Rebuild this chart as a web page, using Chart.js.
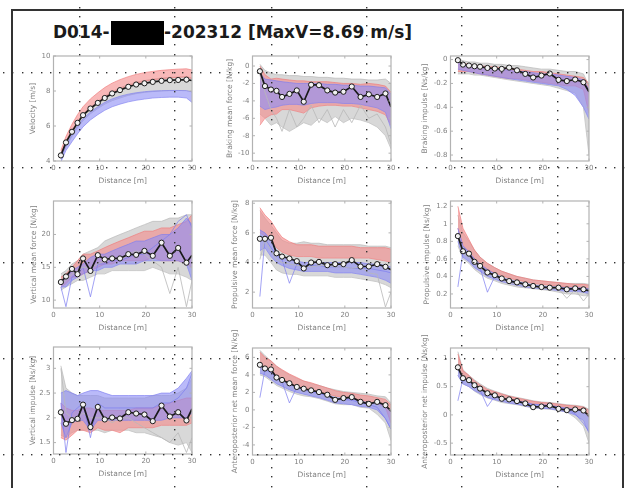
<!DOCTYPE html>
<html><head><meta charset="utf-8">
<script src="https://cdn.jsdelivr.net/npm/chart.js@4.4.1/dist/chart.umd.min.js"></script>
<style>
html,body{margin:0;padding:0;background:#fff;}
body{width:627px;height:488px;position:relative;overflow:hidden;font-family:"DejaVu Sans",sans-serif;}
#frame{position:absolute;left:11px;top:9px;width:613px;height:500px;box-sizing:border-box;border:2px solid #333;border-bottom:none;}
.tt{position:absolute;top:19px;font:bold 17px "DejaVu Sans",sans-serif;color:#1a1a1a;line-height:26px;white-space:nowrap;}
#redact{position:absolute;left:111px;top:21px;width:53px;height:24px;background:#000;}
.cw{position:absolute;}
#dots{position:absolute;left:0;top:0;z-index:10;pointer-events:none;}
</style>
</head><body>
<div id="frame"></div>
<div class="tt" style="left:53px">D014-</div>
<div id="redact"></div>
<div class="tt" style="left:164px">-202312 [MaxV=8.69 m/s]</div>
<canvas id="dots" width="627" height="488"></canvas>
<script>
// ---------- data ----------
const DIST = [1.6, 2.7, 4.0, 5.2, 6.4, 8.0, 9.6, 11.1, 12.7, 14.4, 16.2, 17.9, 19.7, 21.5, 23.4, 25.2, 27.0, 28.8, 30.0];
const X_TICKS = [0, 10, 20, 30];

// Velocity [m/s]
const velMean   = [4.32,5.06,5.67,6.18,6.62,7.0,7.32,7.6,7.86,8.05,8.24,8.37,8.44,8.52,8.58,8.62,8.63,8.65,8.6];
const velRedHi  = [4.6,5.4,6.1,6.65,7.1,7.55,7.9,8.2,8.45,8.65,8.82,8.95,9.05,9.12,9.18,9.22,9.25,9.27,9.2];
const velRedLo  = [4.3,5.05,5.7,6.2,6.62,7.02,7.36,7.65,7.9,8.1,8.3,8.45,8.55,8.63,8.7,8.75,8.78,8.8,8.7];
const velGrayHi = [4.4,5.15,5.75,6.25,6.68,7.08,7.42,7.72,7.97,8.18,8.36,8.5,8.6,8.68,8.74,8.78,8.8,8.82,8.75];
const velGrayLo = [4.1,4.8,5.4,5.9,6.3,6.7,7.0,7.25,7.45,7.6,7.75,7.85,7.92,7.97,8.0,8.02,8.03,8.03,7.95];
const velBlueHi = [4.2,4.9,5.5,6.0,6.42,6.8,7.1,7.35,7.55,7.7,7.82,7.9,7.96,8.0,8.02,8.03,8.03,8.02,7.95];
const velBlueLo = [3.95,4.6,5.1,5.55,5.95,6.35,6.65,6.9,7.1,7.25,7.38,7.47,7.54,7.6,7.63,7.65,7.65,7.6,7.35];
const velTicks  = [4, 6, 8, 10];

// Braking mean force [N/kg]
const bmfMean   = [-0.6,-2.3,-2.7,-2.85,-3.55,-3.2,-2.8,-4.1,-2.15,-2.2,-2.8,-3.05,-2.95,-2.35,-3.55,-3.25,-3.55,-3.15,-4.7];
const bmfRedHi  = [0,-1.0,-1.5,-1.4,-1.5,-1.6,-1.7,-1.7,-1.8,-1.8,-1.8,-1.9,-2.0,-2.0,-2.1,-2.0,-2.1,-2.3,-3.0];
const bmfRedLo  = [-6.8,-6.0,-5.6,-5.5,-5.0,-5.0,-5.2,-5.4,-4.8,-4.6,-4.5,-4.5,-4.6,-4.6,-4.8,-5.0,-5.2,-5.6,-6.8];
const bmfGrayHi = [0.2,-0.5,-0.8,-1.0,-1.0,-1.1,-1.1,-1.2,-1.2,-1.3,-1.3,-1.4,-1.4,-1.5,-1.5,-1.6,-1.6,-1.5,-2.0];
const bmfGrayLo = [-5.5,-6.0,-6.8,-6.5,-7.0,-7.5,-7.0,-6.5,-6.8,-6.0,-6.5,-5.8,-6.5,-6.0,-6.2,-6.5,-7.0,-8.0,-9.5];
const bmfBlueHi = [-0.8,-1.5,-1.6,-1.7,-1.8,-1.9,-2.0,-2.0,-2.0,-2.0,-2.1,-2.1,-2.2,-2.2,-2.3,-2.3,-2.4,-2.5,-3.2];
const bmfBlueLo = [-4.6,-5.0,-4.8,-4.7,-4.5,-4.4,-4.4,-4.5,-4.3,-4.2,-4.2,-4.2,-4.3,-4.3,-4.4,-4.6,-4.8,-5.3,-7.2];
const bmfGrayOut= [-1.0,-3.0,-5.0,-6.0,-7.5,-5.0,-7.0,-6.0,-4.5,-6.5,-5.0,-7.0,-5.0,-6.5,-4.5,-6.0,-5.5,-7.0,-9.0];
const bmfTicks  = [-10, -8, -6, -4, -2, 0];

// Braking impulse [Ns/kg]
const bimMean   = [-0.005,-0.042,-0.05,-0.056,-0.06,-0.07,-0.075,-0.078,-0.067,-0.09,-0.12,-0.15,-0.134,-0.117,-0.17,-0.18,-0.167,-0.19,-0.27];
const bimRedHi  = [-0.02,-0.03,-0.04,-0.05,-0.05,-0.06,-0.06,-0.07,-0.07,-0.08,-0.09,-0.1,-0.1,-0.11,-0.12,-0.13,-0.14,-0.15,-0.2];
const bimRedLo  = [-0.1,-0.1,-0.1,-0.11,-0.12,-0.13,-0.14,-0.15,-0.16,-0.16,-0.17,-0.18,-0.19,-0.2,-0.21,-0.22,-0.22,-0.25,-0.45];
const bimGrayHi = [0.01,-0.01,-0.02,-0.02,-0.03,-0.03,-0.04,-0.04,-0.05,-0.05,-0.06,-0.07,-0.08,-0.08,-0.09,-0.1,-0.1,-0.12,-0.22];
const bimGrayLo = [-0.12,-0.12,-0.12,-0.13,-0.13,-0.14,-0.15,-0.16,-0.17,-0.18,-0.19,-0.2,-0.21,-0.22,-0.24,-0.26,-0.28,-0.4,-0.8];
const bimBlueHi = [-0.02,-0.04,-0.05,-0.06,-0.06,-0.07,-0.08,-0.08,-0.09,-0.1,-0.1,-0.11,-0.12,-0.12,-0.13,-0.14,-0.15,-0.17,-0.25];
const bimBlueLo = [-0.08,-0.09,-0.1,-0.11,-0.12,-0.13,-0.14,-0.15,-0.16,-0.17,-0.18,-0.19,-0.2,-0.21,-0.22,-0.25,-0.3,-0.4,-0.5];
const bimTicks  = [-0.8, -0.6, -0.4, -0.2, 0];

// Vertical mean force [N/kg]
const vmfMean   = [12.75,13.6,14.75,13.95,16.35,14.45,16.85,16.2,16.35,16.35,17.0,16.9,17.5,16.75,18.75,16.75,17.95,15.7,16.85];
const vmfRedHi  = [13.5,14,15,16,17,17,17.5,18,18.5,19,19.5,20,20.5,20.5,21,21,21.5,22,23];
const vmfRedLo  = [12,12.5,13.5,13.5,14,14.5,15,15.5,15.5,16,16,16,16,16.5,16,16,16,15.5,15];
const vmfGrayHi = [14,14.5,15.5,16,17,17.5,18,19,19.5,20,20.5,21,21.5,22,22,22.5,22.5,23,23];
const vmfGrayLo = [11.5,12,12.5,13,13,13.5,14,14,14.5,14.5,14.5,14.5,14.5,15,14.5,14,14,13.5,13];
const vmfBlueHi = [13,13.5,14.5,15,15.5,16.5,17,17,17.5,18,18.5,19,19,19.5,20,20,21,22.5,21.5];
const vmfBlueLo = [12,12,13,13.5,14,14.5,14.5,15,15,15.5,15.5,15.5,16,16,16,16,16,15.5,13];
const vmfBlueOut= [12,9.0,13.5,14,15,10.5,15.5,15.5,16,16,16.5,17,17,18,19,20,22,23,21];
const vmfGrayOut= [12.5,13,14,14.5,15,15,15.5,16,16.5,16,17,17.5,17,16,15,11,15,9,13];
const vmfTicks  = [10, 15, 20];

// Propulsive mean force [N/kg]
const pmfMean   = [5.6,5.6,5.67,4.62,4.4,4.27,4.09,3.6,4.0,4.04,3.82,3.89,3.89,4.16,3.73,3.73,3.89,3.71,3.51];
const pmfRedHi  = [7.7,7.2,6.8,6.2,5.7,5.4,5.2,5.2,5.2,5.1,5.1,5.1,5.1,5.1,5.0,5.0,5.0,5.0,4.9];
const pmfRedLo  = [6.0,5.8,5.5,5.0,4.7,4.5,4.4,4.4,4.4,4.3,4.3,4.3,4.3,4.3,4.3,4.3,4.2,4.1,4.0];
const pmfGrayHi = [7.5,7.0,6.5,6.0,5.5,5.3,5.3,5.4,5.3,5.3,5.2,5.2,5.2,5.2,5.2,5.1,5.1,5.1,5.0];
const pmfGrayLo = [4.5,4.5,4.0,3.5,3.3,3.2,3.2,3.1,3.1,3.1,3.1,3.0,3.0,3.0,2.9,2.8,2.7,2.5,2.3];
const pmfBlueHi = [6.2,6.0,5.5,4.8,4.4,4.2,4.1,4.0,4.0,4.0,4.0,4.0,4.0,4.0,4.0,3.9,3.9,3.8,3.7];
const pmfBlueLo = [4.8,5.0,4.4,4.0,3.8,3.6,3.5,3.4,3.4,3.4,3.4,3.3,3.3,3.3,3.2,3.1,3.0,2.8,2.6];
const pmfBlueOut= [1.7,5.6,5.0,4.5,4.2,2.6,3.9,3.8,3.8,3.8,3.7,3.7,3.7,3.6,3.6,3.6,3.5,3.4,3.3];
const pmfGrayOut= [4.2,5.5,4.8,4.2,4.0,3.9,3.8,3.8,3.7,3.8,3.8,3.7,3.7,3.6,3.7,3.3,3.2,1.0,2.0];
const pmfTicks  = [2, 4, 6, 8];

// Propulsive impulse [Ns/kg]
const pimMean   = [0.86,0.687,0.66,0.566,0.52,0.445,0.415,0.377,0.347,0.332,0.309,0.291,0.279,0.272,0.272,0.253,0.264,0.253,0.238];
const pimRedHi  = [1.2,0.95,0.82,0.7,0.62,0.55,0.5,0.46,0.43,0.4,0.38,0.36,0.35,0.34,0.33,0.32,0.31,0.31,0.3];
const pimRedLo  = [0.95,0.75,0.68,0.6,0.54,0.48,0.44,0.41,0.38,0.36,0.34,0.32,0.31,0.3,0.29,0.28,0.28,0.27,0.26];
const pimGrayHi = [1.1,0.9,0.8,0.7,0.62,0.55,0.5,0.46,0.43,0.4,0.38,0.36,0.35,0.34,0.33,0.32,0.32,0.32,0.31];
const pimGrayLo = [0.75,0.6,0.55,0.48,0.43,0.38,0.35,0.32,0.3,0.28,0.27,0.26,0.25,0.24,0.22,0.2,0.2,0.18,0.18];
const pimBlueHi = [0.95,0.75,0.68,0.6,0.54,0.48,0.43,0.39,0.36,0.34,0.32,0.3,0.29,0.28,0.28,0.27,0.27,0.27,0.26];
const pimBlueLo = [0.8,0.62,0.57,0.5,0.46,0.4,0.37,0.34,0.32,0.3,0.28,0.27,0.26,0.25,0.24,0.23,0.23,0.22,0.2];
const pimBlueOut= [0.28,0.68,0.64,0.56,0.5,0.22,0.4,0.37,0.34,0.32,0.31,0.29,0.28,0.27,0.26,0.25,0.25,0.24,0.23];
const pimGrayOut= [0.85,0.66,0.62,0.55,0.5,0.44,0.4,0.36,0.33,0.31,0.3,0.28,0.27,0.26,0.26,0.15,0.25,0.12,0.2];
const pimTicks  = [0.2, 0.4, 0.6, 0.8, 1, 1.2];

// Vertical impulse [Ns/kg]
const vimMean   = [2.113,1.88,1.953,1.98,2.267,1.813,2.22,1.967,2.007,1.987,2.113,2.087,2.067,1.933,2.247,2.027,2.113,1.947,2.18];
const vimRedHi  = [2.3,2.2,2.15,2.15,2.2,2.2,2.15,2.15,2.15,2.15,2.15,2.2,2.2,2.2,2.25,2.3,2.35,2.4,2.4];
const vimRedLo  = [1.6,1.55,1.65,1.75,1.75,1.7,1.8,1.75,1.75,1.7,1.8,1.8,1.8,1.8,1.85,1.85,1.85,1.85,1.9];
const vimGrayHi = [3.05,2.6,2.5,2.45,2.45,2.45,2.45,2.4,2.4,2.4,2.4,2.4,2.4,2.45,2.45,2.45,2.5,2.6,2.8];
const vimGrayLo = [1.65,1.6,1.7,1.75,1.75,1.75,1.75,1.7,1.75,1.75,1.75,1.7,1.7,1.65,1.6,1.5,1.45,1.5,1.3];
const vimBlueHi = [2.5,2.55,2.5,2.45,2.5,2.55,2.55,2.5,2.45,2.45,2.45,2.45,2.45,2.45,2.5,2.5,2.6,2.8,2.95];
const vimBlueLo = [1.9,1.6,1.9,1.95,1.95,1.75,1.95,1.95,1.95,1.95,1.95,1.95,1.95,1.95,1.95,2.0,2.0,2.0,2.1];
const vimBlueOut= [2.3,1.3,2.1,2.2,2.3,1.6,2.3,2.2,2.2,2.2,2.2,2.2,2.2,2.2,2.3,2.3,2.4,2.6,2.9];
const vimGrayOut= [3.0,2.1,2.0,2.0,2.1,2.0,2.0,2.0,1.9,2.0,2.0,1.9,1.8,1.7,1.6,1.5,1.7,1.3,1.6];
const vimTicks  = [1.5, 2, 2.5, 3];

// Anteroposterior net mean force [N/kg]
const apfMean   = [5.15,4.73,4.62,3.7,3.42,3.04,2.62,2.42,2.23,2.04,1.73,1.15,1.35,1.46,0.92,0.69,0.92,0.54,-0.15];
const apfRedHi  = [6.6,6.0,5.6,5.0,4.6,4.1,3.7,3.3,3.1,2.8,2.5,2.2,2.0,1.9,1.7,1.6,1.4,1.2,0.6];
const apfRedLo  = [5.0,4.6,4.4,3.8,3.5,3.1,2.7,2.5,2.3,2.1,1.8,1.6,1.4,1.3,1.1,0.9,0.7,0.3,-1.5];
const apfGrayHi = [6.8,6.2,5.6,5.0,4.5,4.0,3.6,3.3,3.0,2.8,2.5,2.3,2.1,2.0,1.9,1.8,1.6,1.5,0.8];
const apfGrayLo = [4.0,3.8,3.3,2.8,2.5,2.1,1.8,1.6,1.5,1.3,1.0,0.7,0.6,0.6,0.3,0.2,-0.5,-1.5,-3.5];
const apfBlueHi = [5.2,4.8,4.5,3.8,3.4,3.0,2.6,2.4,2.2,2.0,1.7,1.4,1.3,1.3,1.0,0.8,0.8,0.5,-0.2];
const apfBlueLo = [4.2,4.0,3.5,3.0,2.7,2.3,2.0,1.8,1.6,1.4,1.1,0.8,0.7,0.6,0.4,0.3,0.0,-1.0,-2.2];
const apfBlueOut= [1.4,4.6,4.3,3.6,3.2,0.8,2.6,2.3,2.1,1.9,1.6,1.3,1.2,1.1,0.8,0.6,0.3,-1.0,-2.2];
const apfTicks  = [-4, -2, 0, 2, 4, 6];

// Anteroposterior net impulse [Ns/kg]
const apiMean   = [0.843,0.65,0.616,0.526,0.466,0.383,0.347,0.287,0.275,0.245,0.203,0.137,0.149,0.167,0.108,0.084,0.096,0.078,-0.024];
const apiRedHi  = [1.08,0.78,0.7,0.6,0.53,0.45,0.41,0.37,0.33,0.3,0.27,0.24,0.22,0.21,0.19,0.17,0.16,0.14,0.08];
const apiRedLo  = [0.85,0.65,0.6,0.52,0.46,0.39,0.35,0.31,0.28,0.26,0.23,0.2,0.19,0.18,0.15,0.13,0.11,0.08,-0.05];
const apiGrayHi = [1.12,0.8,0.7,0.62,0.55,0.47,0.42,0.38,0.34,0.31,0.28,0.25,0.23,0.22,0.2,0.18,0.17,0.15,0.1];
const apiGrayLo = [0.7,0.55,0.5,0.42,0.36,0.3,0.26,0.22,0.2,0.18,0.15,0.12,0.11,0.1,0.08,0.05,-0.05,-0.2,-0.5];
const apiBlueHi = [0.85,0.65,0.6,0.52,0.46,0.38,0.34,0.3,0.27,0.25,0.22,0.19,0.18,0.17,0.14,0.12,0.1,0.07,-0.05];
const apiBlueLo = [0.7,0.55,0.5,0.43,0.38,0.31,0.27,0.24,0.21,0.19,0.16,0.13,0.12,0.11,0.08,0.05,0.0,-0.1,-0.32];
const apiBlueOut= [0.25,0.64,0.6,0.5,0.44,0.15,0.33,0.29,0.26,0.24,0.21,0.18,0.17,0.16,0.13,0.1,0.02,-0.15,-0.3];
const apiTicks  = [-0.5, 0, 0.5, 1];

// ---------- chart specs ----------
const SPECS = [
  {box:[53,56,138,105],  yMin:4,     yMax:10,    yTicks:velTicks, yTitle:'Velocity [m/s]',                 yOff:20, mean:velMean, gray:[velGrayHi,velGrayLo], red:[velRedHi,velRedLo], blue:[velBlueHi,velBlueLo], out:[]},
  {box:[252,56,138,105], yMin:-10.9, yMax:1.15,  yTicks:bmfTicks, yTitle:'Braking mean force [N/kg]',      yOff:22, mean:bmfMean, gray:[bmfGrayHi,bmfGrayLo], red:[bmfRedHi,bmfRedLo], blue:[bmfBlueHi,bmfBlueLo], out:[['g',bmfGrayOut]]},
  {box:[450,56,138,105], yMin:-0.85, yMax:0.03,  yTicks:bimTicks, yTitle:'Braking impulse [Ns/kg]',        yOff:25, mean:bimMean, gray:[bimGrayHi,bimGrayLo], red:[bimRedHi,bimRedLo], blue:[bimBlueHi,bimBlueLo], out:[]},
  {box:[53,201,138,107], yMin:8.8,   yMax:25.1,  yTicks:vmfTicks, yTitle:'Vertical mean force [N/kg]',     yOff:19, mean:vmfMean, gray:[vmfGrayHi,vmfGrayLo], red:[vmfRedHi,vmfRedLo], blue:[vmfBlueHi,vmfBlueLo], out:[['g',vmfGrayOut],['b',vmfBlueOut]]},
  {box:[252,201,138,107],yMin:0.93,  yMax:8.15,  yTicks:pmfTicks, yTitle:'Propulsive mean force [N/kg]',   yOff:17, mean:pmfMean, gray:[pmfGrayHi,pmfGrayLo], red:[pmfRedHi,pmfRedLo], blue:[pmfBlueHi,pmfBlueLo], out:[['g',pmfGrayOut],['b',pmfBlueOut]]},
  {box:[450,201,138,107],yMin:0.04,  yMax:1.26,  yTicks:pimTicks, yTitle:'Propulsive impulse [Ns/kg]',     yOff:23, mean:pimMean, gray:[pimGrayHi,pimGrayLo], red:[pimRedHi,pimRedLo], blue:[pimBlueHi,pimBlueLo], out:[['g',pimGrayOut],['b',pimBlueOut]]},
  {box:[53,347,138,107], yMin:1.27,  yMax:3.43,  yTicks:vimTicks, yTitle:'Vertical impulse [Ns/kg]',       yOff:20, mean:vimMean, gray:[vimGrayHi,vimGrayLo], red:[vimRedHi,vimRedLo], blue:[vimBlueHi,vimBlueLo], out:[['g',vimGrayOut],['b',vimBlueOut]]},
  {box:[252,348,138,107],yMin:-5.15, yMax:7.07,  yTicks:apfTicks, yTitle:'Anteroposterior net mean force [N/kg]', yOff:17, mean:apfMean, gray:[apfGrayHi,apfGrayLo], red:[apfRedHi,apfRedLo], blue:[apfBlueHi,apfBlueLo], out:[['b',apfBlueOut]]},
  {box:[450,348,138,107],yMin:-0.71, yMax:1.185, yTicks:apiTicks, yTitle:'Anteroposterior net impulse [Ns/kg]',  yOff:25, mean:apiMean, gray:[apiGrayHi,apiGrayLo], red:[apiRedHi,apiRedLo], blue:[apiBlueHi,apiBlueLo], out:[['b',apiBlueOut]]}
];

const COL = {
  g:{line:'rgba(185,185,185,0.9)', fill:'rgba(200,200,200,0.7)'},
  r:{line:'rgba(240,120,120,0.8)', fill:'rgba(244,140,140,0.62)'},
  b:{line:'rgba(125,125,240,0.8)', fill:'rgba(140,140,245,0.6)'}
};
const AX_COLOR = '#b2b2b2', TXT = '#808080';

function pts(vals){ return DIST.map((x,i)=>({x:x, y:vals[i]})); }

const framePlugin = {
  id:'frame',
  afterDraw(chart){
    const {ctx, chartArea:a, scales} = chart;
    ctx.save();
    ctx.strokeStyle = AX_COLOR; ctx.lineWidth = 1.2;
    ctx.strokeRect(a.left, a.top, a.right-a.left, a.bottom-a.top);
    ctx.lineWidth = 1;
    ctx.beginPath();
    scales.x.ticks.forEach(t=>{ const p = scales.x.getPixelForValue(t.value);
      ctx.moveTo(p,a.bottom); ctx.lineTo(p,a.bottom-2.5); ctx.moveTo(p,a.top); ctx.lineTo(p,a.top+2.5); });
    scales.y.ticks.forEach(t=>{ const p = scales.y.getPixelForValue(t.value);
      ctx.moveTo(a.left,p); ctx.lineTo(a.left+2.5,p); ctx.moveTo(a.right,p); ctx.lineTo(a.right-2.5,p); });
    ctx.stroke();
    ctx.restore();
  }
};

function band(pair, key){
  return [
    {data:pts(pair[0]), borderColor:COL[key].line, borderWidth:0.8, pointRadius:0, fill:'+1', backgroundColor:COL[key].fill, tension:0},
    {data:pts(pair[1]), borderColor:COL[key].line, borderWidth:0.8, pointRadius:0, fill:false, tension:0}
  ];
}

SPECS.forEach((s)=>{
  const PT = 24, XH = 25, PR = 8, TITLE_LH = 7.5*1.2;
  const W = s.yOff + TITLE_LH/2;
  const [L,T,PW,PH] = s.box;
  const cw = Math.round(W + PW + PR), ch = PT + PH + XH;
  const wrap = document.createElement('div');
  wrap.className = 'cw';
  wrap.style.left = (L - W) + 'px'; wrap.style.top = (T - PT) + 'px';
  wrap.style.width = cw + 'px'; wrap.style.height = ch + 'px';
  const cv = document.createElement('canvas');
  cv.width = cw; cv.height = ch;
  cv.style.width = cw + 'px'; cv.style.height = ch + 'px';
  wrap.appendChild(cv);
  document.body.insertBefore(wrap, document.getElementById('dots'));

  const n = s.mean.length;
  const datasets = [
    {data:pts(s.mean), borderColor:'#1a1a1a', borderWidth:1.7, tension:0, fill:false,
     pointRadius:s.mean.map((v,i)=> i===n-1 ? 0 : 2.6), pointBackgroundColor:'#f2f2f2',
     pointBorderColor:'#1a1a1a', pointBorderWidth:1}
  ];
  s.out.forEach(o=> datasets.push({data:pts(o[1]), borderColor:COL[o[0]].line, borderWidth:0.9, pointRadius:0, fill:false, tension:0}));
  datasets.push(...band(s.blue,'b'), ...band(s.red,'r'), ...band(s.gray,'g'));

  new Chart(cv, {
    type:'line',
    data:{datasets},
    options:{
      responsive:false, animation:false, devicePixelRatio:1,
      layout:{padding:{top:PT, right:PR, left:0, bottom:0}},
      plugins:{legend:{display:false}, tooltip:{enabled:false}},
      scales:{
        x:{type:'linear', min:0, max:30,
           grid:{display:false, drawTicks:false}, border:{display:false},
           afterBuildTicks: sc => { sc.ticks = X_TICKS.map(v=>({value:v})); },
           ticks:{color:TXT, font:{family:'DejaVu Sans', size:7}, padding:3, maxRotation:0, autoSkip:false,
                  callback: v => String(v)},
           title:{display:true, text:'Distance [m]', color:TXT, font:{family:'DejaVu Sans', size:7.5}, padding:{top:0,bottom:0.5}},
           afterFit: sc => { sc.height = XH; sc.paddingLeft = 0; sc.paddingRight = 0; }
        },
        y:{type:'linear', min:s.yMin, max:s.yMax,
           grid:{display:false, drawTicks:false}, border:{display:false},
           afterBuildTicks: sc => { sc.ticks = s.yTicks.map(v=>({value:v})); },
           ticks:{color:TXT, font:{family:'DejaVu Sans', size:7}, padding:3, autoSkip:false,
                  callback: v => String(+Number(v).toFixed(2))},
           title:{display:true, text:s.yTitle, color:TXT, font:{family:'DejaVu Sans', size:7.5}, padding:{top:0,bottom:0}},
           afterFit: sc => { sc.width = W; sc.paddingTop = 0; sc.paddingBottom = 0; }
        }
      }
    },
    plugins:[framePlugin]
  });
});

// ---------- page dot grid overlay (scan artefact) ----------
(function(){
  const c = document.getElementById('dots').getContext('2d');
  c.fillStyle = '#333';
  const HY = [73, 168, 263, 359, 455];
  const VX = [80, 175, 272, 367, 462, 558];
  HY.forEach(y=>{ for(let x=3; x<627; x+=9.4){ c.fillRect(Math.round(x), y-1, 1.4, 1.4); } });
  VX.forEach(x=>{ for(let y=6.5; y<488; y+=9.4){ c.fillRect(x-1, Math.round(y), 1.4, 1.4); } });
})();
</script>
</body></html>
